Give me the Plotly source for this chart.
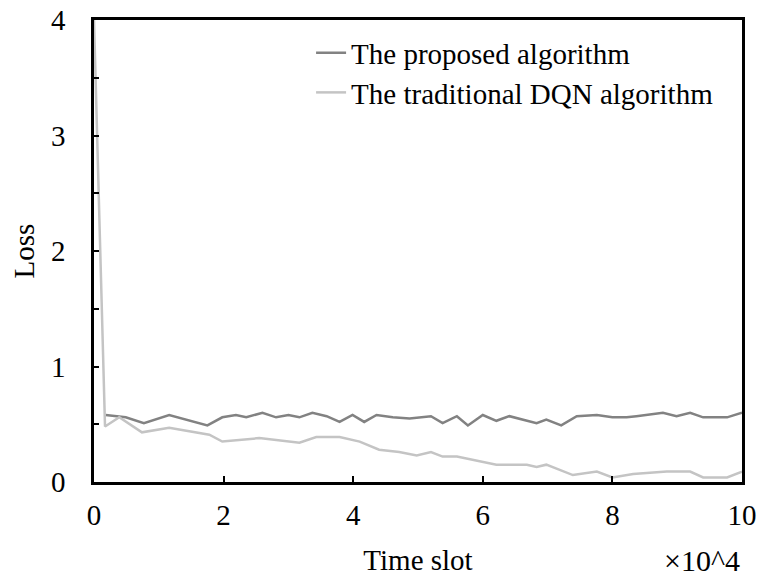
import plotly.graph_objects as go

# Data (x in units of 10^4 time slots)
proposed_x = [0.18, 0.49, 0.77, 1.16, 1.75, 1.98, 2.19, 2.35, 2.6, 2.81, 3.0, 3.17, 3.37,
              3.59, 3.79, 3.99, 4.17, 4.36, 4.61, 4.87, 5.2, 5.38, 5.6, 5.77, 6.0, 6.21,
              6.41, 6.83, 6.98, 7.21, 7.45, 7.76, 8.0, 8.22, 8.37, 8.78, 8.99, 9.2, 9.4,
              9.77, 10.0]
proposed_y = [0.58, 0.56, 0.51, 0.58, 0.49, 0.56, 0.58, 0.56, 0.60, 0.56, 0.58, 0.56, 0.60,
              0.57, 0.52, 0.58, 0.52, 0.58, 0.56, 0.55, 0.57, 0.51, 0.57, 0.49, 0.58, 0.53,
              0.57, 0.51, 0.54, 0.49, 0.57, 0.58, 0.56, 0.56, 0.57, 0.60, 0.57, 0.60, 0.56,
              0.56, 0.60]

dqn_x = [0.0, 0.17, 0.39, 0.74, 1.16, 1.78, 1.98, 2.55, 3.17, 3.43, 3.79, 4.1, 4.4, 4.71,
         4.98, 5.2, 5.38, 5.6, 6.21, 6.68, 6.83, 6.98, 7.39, 7.76, 8.0, 8.32, 8.84, 9.2,
         9.4, 9.77, 10.0]
dqn_y = [4.0, 0.48, 0.56, 0.43, 0.47, 0.41, 0.35, 0.38, 0.34, 0.39, 0.39, 0.35, 0.28, 0.26,
         0.23, 0.26, 0.22, 0.22, 0.15, 0.15, 0.13, 0.15, 0.06, 0.09, 0.04, 0.07, 0.09, 0.09,
         0.04, 0.04, 0.09]

series_names = ["The proposed algorithm", "The traditional DQN algorithm"]
series_colors = ["#828282", "#c4c4c4"]
x_ticks = [0, 2, 4, 6, 8, 10]
y_ticks = [0, 1, 2, 3, 4]

FONT = "Liberation Serif, Times New Roman, serif"
FS = 29

fig = go.Figure()
fig.add_trace(go.Scatter(x=proposed_x, y=proposed_y, mode="lines", name=series_names[0],
                         legend="legend",
                         line=dict(color=series_colors[0], width=2.5)))
fig.add_trace(go.Scatter(x=dqn_x, y=dqn_y, mode="lines", name=series_names[1],
                         legend="legend2",
                         line=dict(color=series_colors[1], width=2.5)))

leg_common = dict(xanchor="left", yanchor="middle", bgcolor="rgba(0,0,0,0)",
                  font=dict(size=FS, family=FONT, color="black"))

fig.update_layout(
    width=758, height=576,
    margin=dict(l=94, r=16, t=20, b=94),
    paper_bgcolor="white", plot_bgcolor="white",
    font=dict(family=FONT, size=FS, color="black"),
    showlegend=True,
    legend=dict(x=0.335, y=0.929, **leg_common),
    legend2=dict(x=0.335, y=0.843, **leg_common),
    xaxis=dict(range=[0, 10], tickvals=x_ticks, ticktext=[str(v) for v in x_ticks],
               showgrid=False, zeroline=False, showline=True, linecolor="black",
               linewidth=2.5, mirror=True, ticks="inside", ticklen=6, tickwidth=2,
               tickcolor="black", ticklabelstandoff=5, automargin=False,
               ticklabeloverflow="allow",
               title=dict(text="Time slot", standoff=21, font=dict(size=FS))),
    yaxis=dict(range=[0, 4], tickvals=y_ticks, ticktext=[str(v) for v in y_ticks],
               showgrid=False, zeroline=False, showline=True, linecolor="black",
               linewidth=2.5, mirror=True, ticks="inside", ticklen=5, tickwidth=1.5,
               tickcolor="black", ticklabelstandoff=20, automargin=False,
               ticklabeloverflow="allow",
               minor=dict(dtick=0.5, ticks="inside", ticklen=5, tickwidth=1.5, tickcolor="black"),
               title=dict(text="Loss", standoff=8, font=dict(size=FS))),
    annotations=[dict(text="×10^4", xref="paper", yref="paper", x=1.0, y=-0.17,
                      xanchor="right", yanchor="middle", showarrow=False,
                      font=dict(size=FS + 1, family=FONT))],
)

# Remove the browser's default 8px body margin so the figure sits at the page origin.
fig.write_html("out.html", config={"displayModeBar": False},
               post_script="document.body.style.margin='0px';")
